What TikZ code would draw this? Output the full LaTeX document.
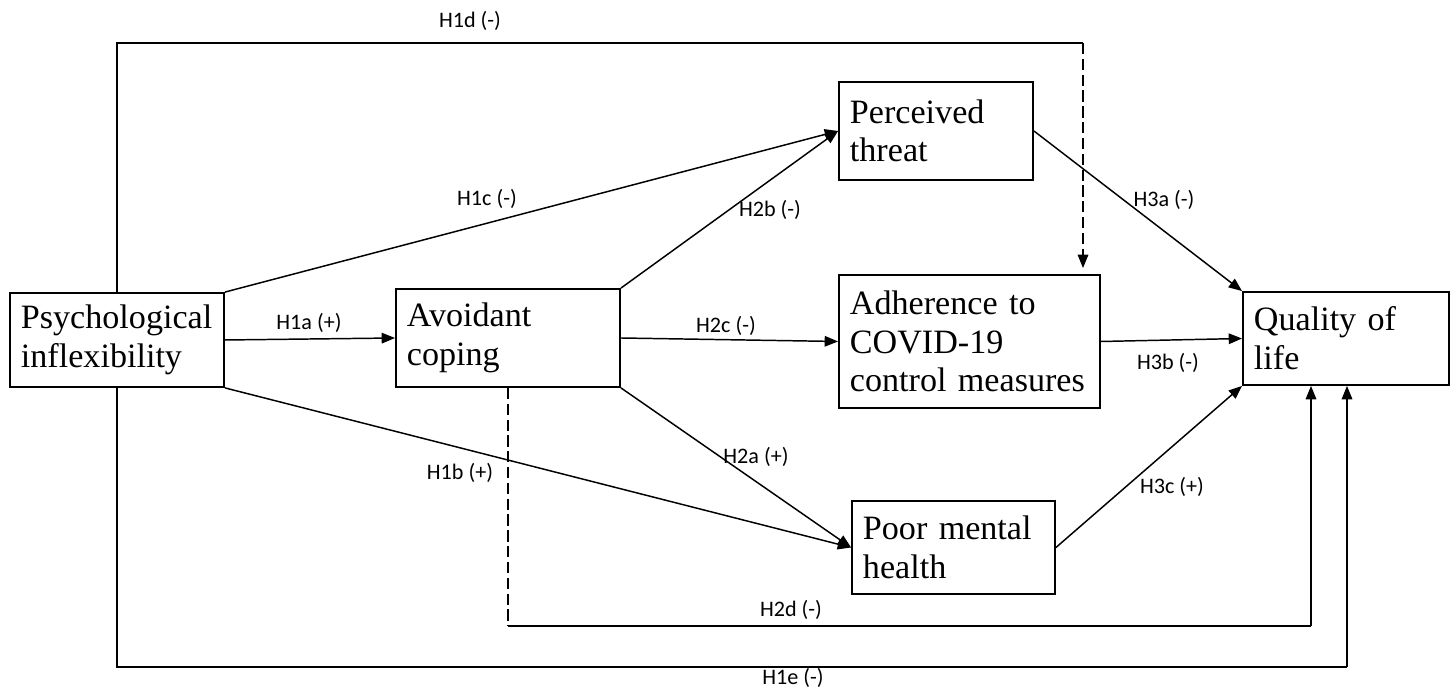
\documentclass[tikz,border=0pt]{standalone}
\usepackage{fontspec}
\setmainfont{Liberation Serif}
\newfontfamily\lblfont{Carlito}
\usetikzlibrary{arrows.meta,positioning,calc}

\begin{document}
\begin{tikzpicture}[x=0.01cm, y=-0.01cm,
    box/.style={draw, line width=0.5pt, align=left, inner xsep=0.11cm, inner ysep=0pt, font=\fontsize{9.7pt}{11pt}\selectfont, text=black},
    arr/.style={-{Triangle[length=3.8pt,width=3pt]}, line width=0.42pt, black},
    ln/.style={line width=0.42pt, black},
    dsh/.style={line width=0.42pt, black, dash pattern=on 3.2pt off 1.3pt},
    lbl/.style={font=\lblfont\fontsize{6.3pt}{7.5pt}\selectfont, inner sep=0pt},
]
\useasboundingbox (0,0) rectangle (1451,689);

\node[box, text width=1.92cm, minimum height=0.94cm] (psy) at (117,340) {Psychological\\inflexibility};
\node[box, text width=2.02cm, minimum height=0.98cm] (avo) at (508,338) {Avoidant\\coping};
\node[box, text width=1.72cm, minimum height=0.98cm] (thr) at (936,131) {Perceived\\threat};
\node[box, text width=2.39cm, minimum height=1.33cm] (adh) at (969.5,341.5) {Adherence to\\COVID-19\\control measures};
\node[box, text width=1.81cm, minimum height=0.93cm] (pmh) at (953.5,547.5) {Poor mental\\health};
\node[box, text width=1.84cm, minimum height=0.93cm] (qol) at (1346,338.5) {Quality of\\life};

\coordinate (h1d) at (1083,43);
\coordinate (h2d) at (1311,626);
\coordinate (h1e) at (1347,667);

\draw[arr] (psy.east) -- (avo.west);
\draw[arr] (psy.north east) -- (thr.west);
\draw[arr] (psy.south east) -- (pmh.west);
\draw[arr] (avo.north east) -- (thr.west);
\draw[arr] (avo.east) -- (adh.west);
\draw[arr] (avo.south east) -- (pmh.west);
\draw[arr] (thr.east) -- (qol.north west);
\draw[arr] (adh.east) -- (qol.west);
\draw[arr] (pmh.east) -- (qol.south west);

% paths round the outside
\draw[ln] (psy.north) |- (h1d);
\draw[dsh, arr, shorten >=0.06cm] (h1d) -- (h1d |- adh.north);
\draw[ln] (psy.south) |- (h1e);
\draw[arr] (h1e) -- (h1e |- qol.south);
\draw[dsh] (avo.south) -- (avo.south |- h2d);
\draw[ln] (avo.south |- h2d) -- (h2d);
\draw[arr] (h2d) -- (h2d |- qol.south);

\node[lbl] (l1d) at (470,21) {H1d (-)};
\node[lbl] (l1c) at (487,199) {H1c (-)};
\node[lbl] (l2b) at (770,210) {H2b (-)};
\node[lbl] (l3a) at (1164,200) {H3a (-)};
\node[lbl] (l1a) at (309,323) {H1a (+)};
\node[lbl] (l2c) at (726,326) {H2c (-)};
\node[lbl] (l3b) at (1168,363) {H3b (-)};
\node[lbl] (l1b) at (460,473) {H1b (+)};
\node[lbl] (l2a) at (756,457) {H2a (+)};
\node[lbl] (l3c) at (1172,487) {H3c (+)};
\node[lbl] (l2d) at (791,610) {H2d (-)};
\node[lbl] (l1e) at (793,678) {H1e (-)};
\end{tikzpicture}
\end{document}
